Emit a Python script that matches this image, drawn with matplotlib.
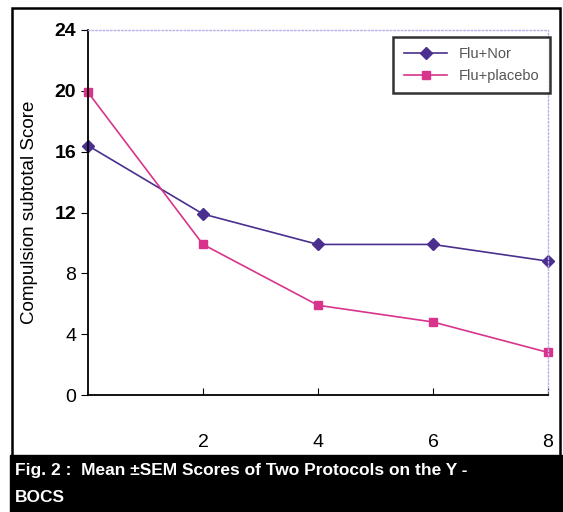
import matplotlib
matplotlib.use("Agg")
import matplotlib.pyplot as plt
from matplotlib.patches import Rectangle

plt.rcParams["font.family"] = ["Liberation Sans", "DejaVu Sans"]

# values
weeks = [0, 2, 4, 6, 8]
flu_nor = [16.4, 11.9, 9.9, 9.9, 8.8]
flu_placebo = [19.9, 9.9, 5.9, 4.8, 2.8]
y_ticks = [0, 4, 8, 12, 16, 20, 24]
x_ticks = [2, 4, 6, 8]

fig = plt.figure(figsize=(5.63, 5.12), dpi=100)
fig.patch.set_facecolor("white")

# outer frame and black caption band
fig.add_artist(Rectangle((12 / 563, 56 / 512), 548 / 563, 448 / 512, transform=fig.transFigure,
                         fill=False, edgecolor="black", linewidth=1.8))
fig.add_artist(Rectangle((10 / 563, 0), 552 / 563, 57 / 512, transform=fig.transFigure,
                         facecolor="black", edgecolor="black"))
fig.text(15 / 563, 1 - 471 / 512, "Fig. 2 :  Mean \u00b1SEM Scores of Two Protocols on the Y -",
         color="white", fontsize=12.5, fontweight="bold", va="center", ha="left")
fig.text(15 / 563, 1 - 497 / 512, "BOCS", color="white", fontsize=12.5,
         fontweight="bold", va="center", ha="left")

ax = fig.add_axes([88 / 563, 117 / 512, 460 / 563, 365 / 512])
ax.plot(weeks, flu_nor, color="#4a2f8f", marker="D", markersize=6, linewidth=1.2,
        label="Flu+Nor", clip_on=False)
ax.plot(weeks, flu_placebo, color="#d8348c", marker="s", markersize=6, linewidth=1.2,
        label="Flu+placebo", clip_on=False)

ax.set_xlim(0, 8)
ax.set_ylim(0, 24)
ax.set_xticks(x_ticks)
ax.set_yticks(y_ticks)
ax.tick_params(axis="x", direction="in", length=5, pad=28, labelsize=14)
ax.tick_params(axis="y", direction="out", length=5, labelsize=14)
for lab in ax.get_yticklabels():
    if float(lab.get_text().replace("\u2212", "-")) >= 12:
        lab.set_fontweight("bold")

ax.spines["left"].set_linewidth(1.3)
ax.spines["bottom"].set_linewidth(1.3)
for s in ["top", "right"]:
    ax.spines[s].set_color("#b8b0e8")
    ax.spines[s].set_linestyle(":")
    ax.spines[s].set_linewidth(1.0)

ax.set_ylabel("Compulsion subtotal Score", fontsize=13.5, labelpad=12)

leg = ax.legend(loc="upper right", bbox_to_anchor=(1.02, 1.0), fontsize=10.5,
                frameon=True, fancybox=False, borderpad=0.7, handlelength=3.0)
leg.get_frame().set_edgecolor("black")
leg.get_frame().set_linewidth(1.8)
for t in leg.get_texts():
    t.set_color("#555555")

fig.savefig("out.png", dpi=100)
